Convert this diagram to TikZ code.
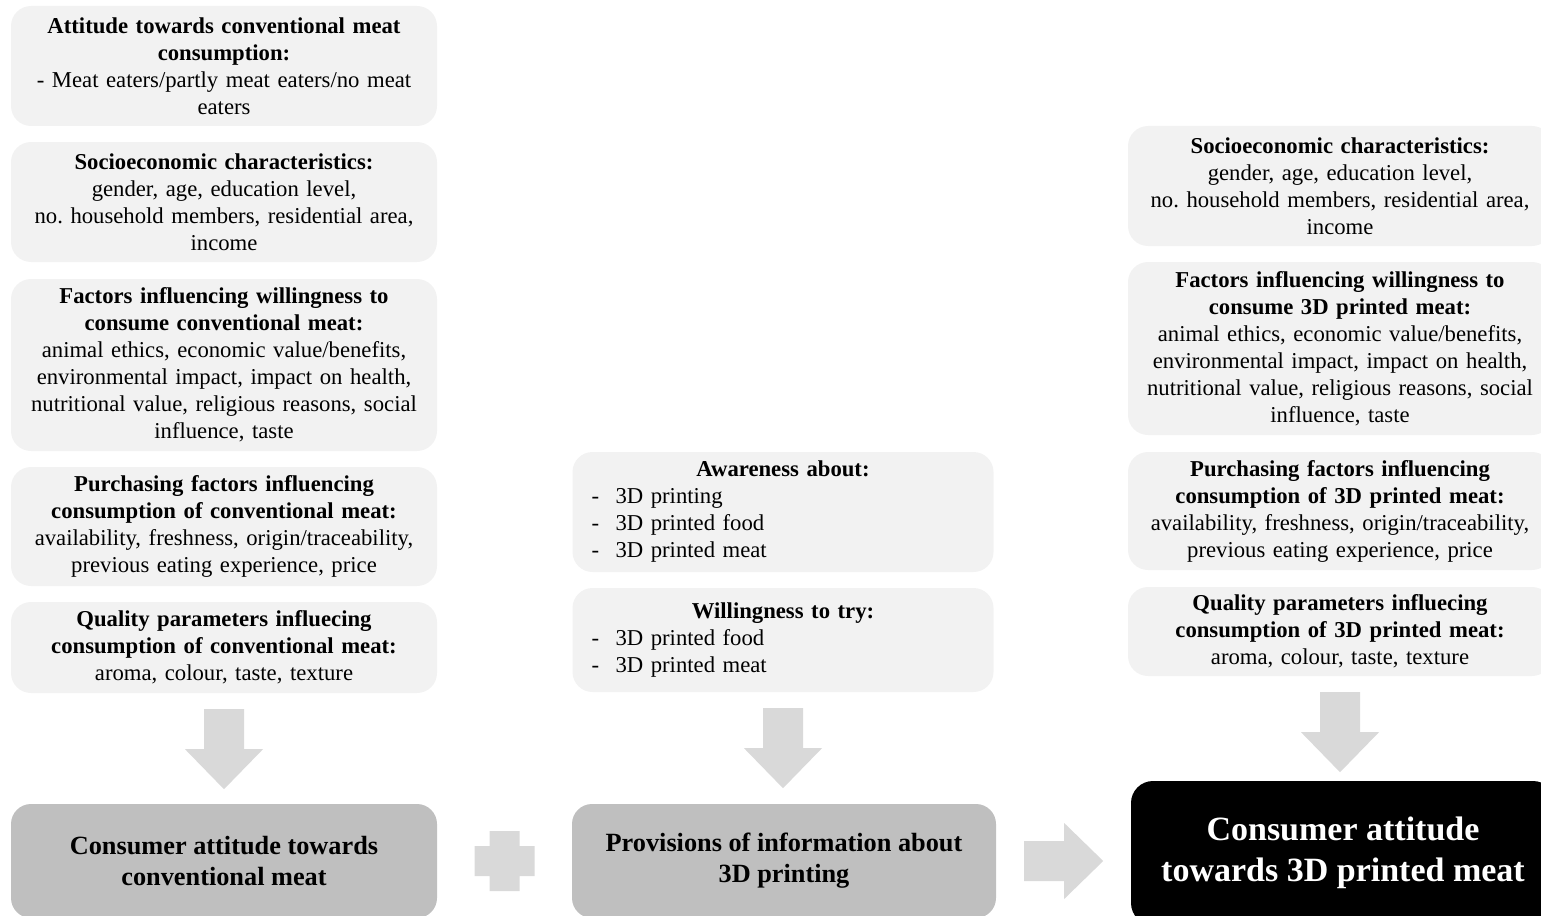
\documentclass[tikz,border=0pt]{standalone}
\usepackage{fontspec}
\setmainfont{Liberation Serif}
\usepackage{xcolor}
\usepackage{tikz}
\usetikzlibrary{calc}
\frenchspacing

\definecolor{boxgray}{HTML}{F2F2F2}
\definecolor{arrgray}{HTML}{D9D9D9}
\definecolor{maingray}{HTML}{BFBFBF}

\begin{document}
\begin{tikzpicture}[x=1pt,y=-1pt,
  f/.style={fill=boxgray,rounded corners=20pt,minimum width=426pt,text width=410pt,
            align=center,inner sep=0pt,font=\fontsize{22.7}{27}\selectfont},
  fm/.style={f,minimum width=421pt,text width=405pt},
  m/.style={fill=maingray,rounded corners=20pt,minimum width=426pt,minimum height=114pt,
            align=center,inner sep=0pt,font=\fontsize{26.3}{31}\selectfont\bfseries},
  r/.style={fill=black,text=white,rounded corners=22pt,minimum width=424pt,minimum height=144pt,
            align=center,inner sep=0pt,font=\fontsize{34}{41}\selectfont\bfseries},
  arr/.style={fill=arrgray}
]
\useasboundingbox (0,0) rectangle (1541,915);
\clip (0,0) rectangle (1541,915);
% conventional meat
\node[f,minimum height=120pt] (att) at (224,66) {\textbf{Attitude towards conventional meat}\\\textbf{consumption:}\\- Meat eaters/partly meat eaters/no meat\\eaters};
\node[f,minimum height=120pt] (soc) at (224,202) {\textbf{Socioeconomic characteristics:}\\gender, age, education level,\\no. household members, residential area,\\income};
\node[f,minimum height=172pt] (will) at (224,365) {\textbf{Factors influencing willingness to}\\\textbf{consume conventional meat:}\\animal ethics, economic value/benefits,\\environmental impact, impact on health,\\nutritional value, religious reasons, social\\influence, taste};
\node[f,minimum height=119pt] (purch) at (224,526.5) {\textbf{Purchasing factors influencing}\\\textbf{consumption of conventional meat:}\\availability, freshness, origin/traceability,\\previous eating experience, price};
\node[f,minimum height=91pt] (qual) at (224,647.5) {\textbf{Quality parameters influecing}\\\textbf{consumption of conventional meat:}\\aroma, colour, taste, texture};
% 3D printing
\node[fm,minimum height=120pt] (aware) at (783,512) {\textbf{Awareness about:}\\
  \makebox[405pt][l]{\hspace{11pt}\makebox[24pt][l]{-}3D printing}\\
  \makebox[405pt][l]{\hspace{11pt}\makebox[24pt][l]{-}3D printed food}\\
  \makebox[405pt][l]{\hspace{11pt}\makebox[24pt][l]{-}3D printed meat}};
\node[fm,minimum height=104pt] (try) at (783,640) {\textbf{Willingness to try:}\\
  \makebox[405pt][l]{\hspace{11pt}\makebox[24pt][l]{-}3D printed food}\\
  \makebox[405pt][l]{\hspace{11pt}\makebox[24pt][l]{-}3D printed meat}};
% 3D printed meat
\node[f,minimum width=424pt,minimum height=120pt] (soc2) at (1340,186) {\textbf{Socioeconomic characteristics:}\\gender, age, education level,\\no. household members, residential area,\\income};
\node[f,minimum width=424pt,minimum height=173pt] (will2) at (1340,348.5) {\textbf{Factors influencing willingness to}\\\textbf{consume 3D printed meat:}\\animal ethics, economic value/benefits,\\environmental impact, impact on health,\\nutritional value, religious reasons, social\\influence, taste};
\node[f,minimum width=424pt,minimum height=118pt] (purch2) at (1340,511) {\textbf{Purchasing factors influencing}\\\textbf{consumption of 3D printed meat:}\\availability, freshness, origin/traceability,\\previous eating experience, price};
\node[f,minimum width=424pt,minimum height=89pt] (qual2) at (1340,631.5) {\textbf{Quality parameters influecing}\\\textbf{consumption of 3D printed meat:}\\aroma, colour, taste, texture};
% bottom row
\node[m] (conv) at (224,861) {Consumer attitude towards\\conventional meat};
\node[m,minimum width=424pt] (info) at (784,861) {Provisions of information about\\3D printing};
\node[r] (att3d) at (1343,853) {Consumer attitude\\towards 3D printed meat};
% block arrows
\foreach \n in {qual,try,qual2}
  \fill[arr] ($(\n.south)+(-20,16)$) -- ++(40,0) -- ++(0,40) -- ++(19,0) -- ++(-39,40)
             -- ++(-39,-40) -- ++(19,0) -- cycle;
\coordinate (plus) at ($(conv.east)!0.5!(info.west)$);
\fill[arr] ($(plus)+(-15,-30)$) -- ++(30,0) -- ++(0,15) -- ++(15,0) -- ++(0,30) -- ++(-15,0)
           -- ++(0,15) -- ++(-30,0) -- ++(0,-15) -- ++(-15,0) -- ++(0,-30) -- ++(15,0) -- cycle;
\fill[arr] ($(info.east)+(28,-20)$) -- ++(40,0) -- ++(0,-18) -- ++(39,38) -- ++(-39,38)
           -- ++(0,-18) -- ++(-40,0) -- cycle;
\end{tikzpicture}
\end{document}
